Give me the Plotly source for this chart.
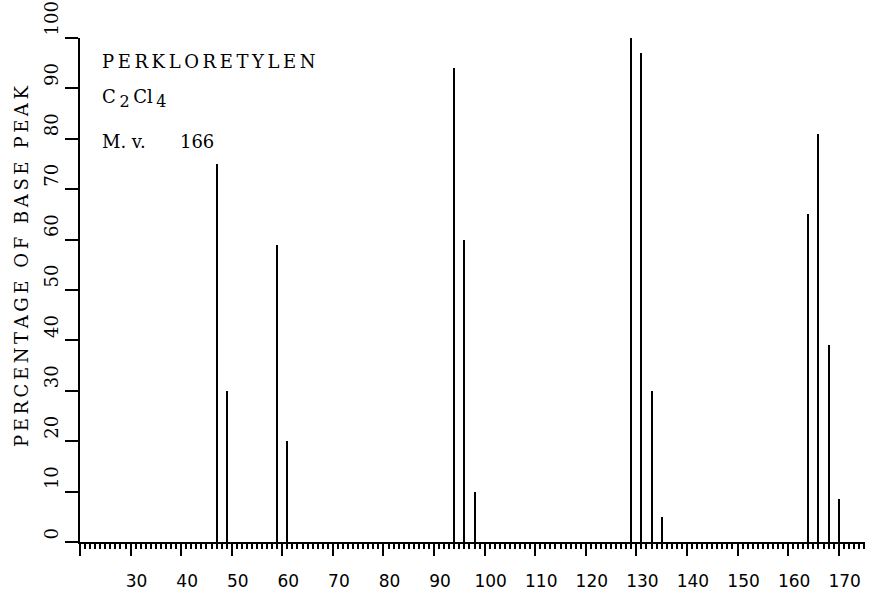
import plotly.graph_objects as go

# Mass spectrum of tetrachloroethylene (perchloroethylene)
mz = [47, 49, 59, 61, 94, 96, 98, 129, 131, 133, 135, 164, 166, 168, 170]
intensity = [75, 30, 59, 20, 94, 60, 10, 100, 97, 30, 5, 65, 81, 39, 8.5]

x_ticks = list(range(20, 171, 10))
x_labels = [""] + [str(v) for v in x_ticks[1:]]
y_ticks = list(range(0, 101, 10))
# pad with figure spaces so each rotated label starts right at its tick
y_labels = [str(v) + "\u2007" * (3 - len(str(v))) for v in y_ticks]

SERIF = "DejaVu Serif"
SANS = "DejaVu Sans"


def spaced(s, gap="\u2009"):
    return gap.join("\u00a0" if c == " " else c for c in s)


def sub(d):
    return "\u2009<sub><span style='font-size:16px'>" + d + "</span></sub>\u2009"


fig = go.Figure()
fig.add_trace(go.Bar(
    x=mz, y=intensity, width=0.4,
    marker=dict(color="black", line=dict(width=0)),
    showlegend=False,
))

fig.update_layout(
    width=872, height=595,
    margin=dict(l=80, r=7, t=38, b=53),
    paper_bgcolor="white", plot_bgcolor="white",
    bargap=0,
    xaxis=dict(
        range=[20, 175.2], automargin=False,
        showgrid=False, zeroline=False,
        showline=True, linecolor="black", linewidth=2,
        tickmode="array", tickvals=x_ticks, ticktext=x_labels,
        ticks="outside", ticklen=12, tickwidth=2, tickcolor="black",
        minor=dict(tickmode="linear", tick0=20, dtick=1, ticks="outside",
                   ticklen=5, tickwidth=1.5, tickcolor="black", showgrid=False),
        tickfont=dict(family=SANS, size=17, color="black"),
        ticklabelshift=6, ticklabelstandoff=11,
    ),
    yaxis=dict(
        range=[0, 100], automargin=False,
        showgrid=False, zeroline=False,
        showline=True, linecolor="black", linewidth=2,
        tickmode="array", tickvals=y_ticks, ticktext=y_labels,
        ticks="outside", ticklen=13, tickwidth=2, tickcolor="black",
        tickangle=-90, ticklabelshift=-17,
        tickfont=dict(family=SERIF, size=18, color="black"),
    ),
    annotations=[
        dict(text=spaced("PERCENTAGE OF BASE PEAK"), textangle=-90,
             xref="paper", yref="paper", x=-0.0752, y=0.5476,
             xanchor="center", yanchor="middle", showarrow=False,
             font=dict(family=SERIF, size=18, color="black")),
        dict(text=spaced("PERKLORETYLEN"),
             xref="paper", yref="paper", x=0.0255, y=0.954,
             xanchor="left", yanchor="middle", showarrow=False,
             font=dict(family=SERIF, size=18, color="black")),
        dict(text="C" + sub("2") + "Cl" + sub("4"),
             xref="paper", yref="paper", x=0.0255, y=0.88,
             xanchor="left", yanchor="middle", showarrow=False,
             font=dict(family=SERIF, size=18, color="black")),
        dict(text="M. v.\u00a0\u00a0\u00a0\u00a0\u00a0\u00a0166",
             xref="paper", yref="paper", x=0.0255, y=0.794,
             xanchor="left", yanchor="middle", showarrow=False,
             font=dict(family=SERIF, size=18, color="black")),
    ],
)

fig.write_html("out.html")
